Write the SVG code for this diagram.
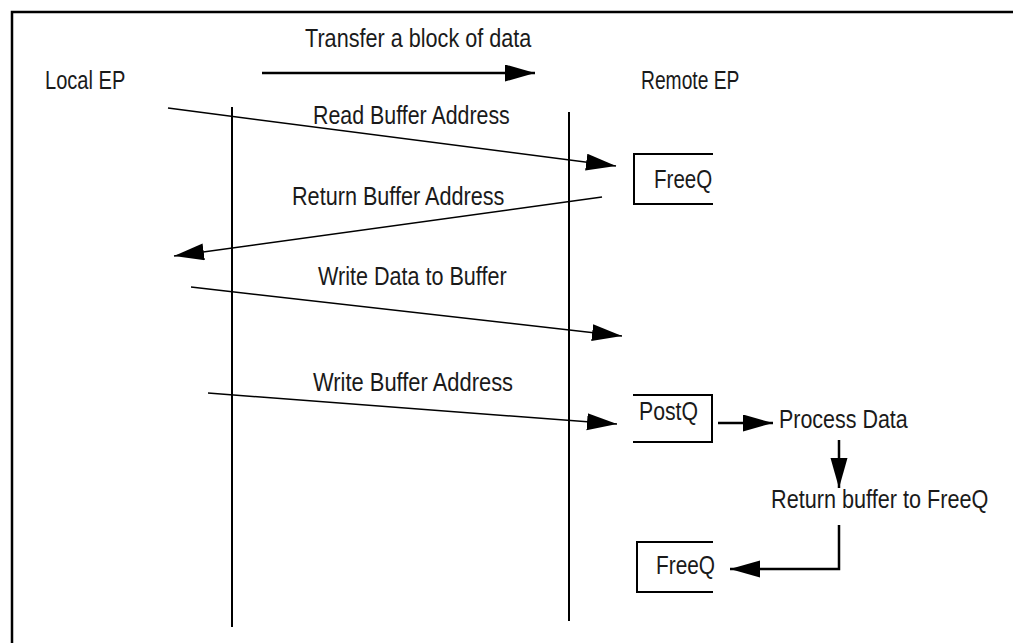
<svg xmlns="http://www.w3.org/2000/svg" width="1013" height="643" viewBox="0 0 1013 643">
<style>
text{font-family:"Liberation Sans",Arial,sans-serif;font-size:25px;fill:#1a1a1a}
.frame{fill:none;stroke:#000;stroke-width:2.5}
.life{fill:none;stroke:#000;stroke-width:2}
.box{fill:none;stroke:#000;stroke-width:2}
.conn{fill:none;stroke:#000;stroke-width:1.5}
.thick{fill:none;stroke:#000;stroke-width:2.5}
</style>
<defs>
<marker id="ah" markerUnits="userSpaceOnUse" markerWidth="32" markerHeight="18" refX="30" refY="8.5" orient="auto" viewBox="0 0 32 18">
<path d="M0,0 L30,8.5 L0,17 z" fill="#000"/>
</marker>
</defs>
<path class="frame" d="M1013,12 H12 V643"/>
<g id="lifelines">
<line class="life" x1="232" y1="107" x2="232" y2="627"/>
<line class="life" x1="569" y1="112" x2="569" y2="621"/>
</g>
<g id="local-ep"><text transform="translate(45,89) scale(0.82,1)" textLength="98" lengthAdjust="spacingAndGlyphs">Local EP</text></g>
<g id="remote-ep"><text transform="translate(641,89) scale(0.82,1)" textLength="120" lengthAdjust="spacingAndGlyphs">Remote EP</text></g>
<g id="freeq1">
<path class="box" d="M713,154 H634 V204 H713"/>
<text transform="translate(654,188) scale(0.82,1)" textLength="71" lengthAdjust="spacingAndGlyphs">FreeQ</text>
</g>
<g id="postq">
<path class="box" d="M633,395 H712 V442 H633"/>
<text transform="translate(639,420) scale(0.82,1)" textLength="72" lengthAdjust="spacingAndGlyphs">PostQ</text>
</g>
<g id="process-data"><text transform="translate(779,428) scale(0.82,1)" textLength="157" lengthAdjust="spacingAndGlyphs">Process Data</text></g>
<g id="return-buffer"><text transform="translate(771,508) scale(0.82,1)" textLength="265" lengthAdjust="spacingAndGlyphs">Return buffer to FreeQ</text></g>
<g id="freeq2">
<path class="box" d="M713,542 H637 V592 H713"/>
<text transform="translate(656,574) scale(0.82,1)" textLength="72" lengthAdjust="spacingAndGlyphs">FreeQ</text>
</g>
<g id="connectors">
<line class="thick" x1="262" y1="73" x2="535" y2="73" marker-end="url(#ah)"/>
<text transform="translate(305,47) scale(0.82,1)" textLength="276" lengthAdjust="spacingAndGlyphs">Transfer a block of data</text>
<line class="conn" x1="168" y1="108" x2="616" y2="166" marker-end="url(#ah)"/>
<text transform="translate(313,124) scale(0.82,1)" textLength="240" lengthAdjust="spacingAndGlyphs">Read Buffer Address</text>
<line class="conn" x1="602" y1="197" x2="174" y2="256" marker-end="url(#ah)"/>
<text transform="translate(292,205) scale(0.82,1)" textLength="259" lengthAdjust="spacingAndGlyphs">Return Buffer Address</text>
<line class="conn" x1="191" y1="287" x2="622" y2="336" marker-end="url(#ah)"/>
<text transform="translate(318,285) scale(0.82,1)" textLength="230" lengthAdjust="spacingAndGlyphs">Write Data to Buffer</text>
<line class="conn" x1="208" y1="393" x2="617" y2="424" marker-end="url(#ah)"/>
<text transform="translate(313,391) scale(0.82,1)" textLength="244" lengthAdjust="spacingAndGlyphs">Write Buffer Address</text>
<line class="thick" x1="718" y1="423" x2="773" y2="423" marker-end="url(#ah)"/>
<line class="thick" x1="839" y1="440" x2="839" y2="488" marker-end="url(#ah)"/>
<path class="thick" d="M839,525 V569 H730" marker-end="url(#ah)"/>
</g>
</svg>
